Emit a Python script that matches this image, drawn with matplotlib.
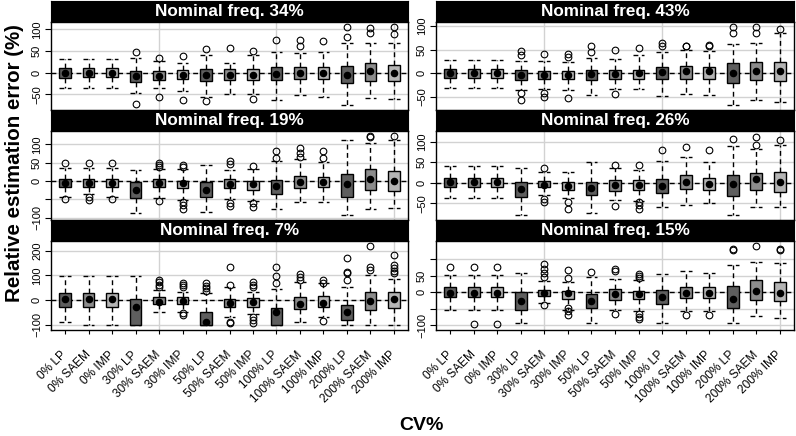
import matplotlib
matplotlib.use('Agg')
import matplotlib.pyplot as plt

plt.rcParams['font.family'] = ['Liberation Sans', 'DejaVu Sans']

# ---------------- data ----------------
categories = ['0% LP', '0% SAEM', '0% IMP', '30% LP', '30% SAEM', '30% IMP',
              '50% LP', '50% SAEM', '50% IMP', '100% LP', '100% SAEM', '100% IMP',
              '200% LP', '200% SAEM', '200% IMP']
methods = ['LP', 'SAEM', 'IMP'] * 5
titles = ['Nominal freq. 34%', 'Nominal freq. 43%', 'Nominal freq. 19%',
          'Nominal freq. 26%', 'Nominal freq. 7%', 'Nominal freq. 15%']

# Nominal freq. 34%
med_34 = [0, 0, 0, -8, -7, -5, -6, -5, -5, -2, 0, 0, -5, 4, 0]
q1_34 = [-11, -10, -10, -21, -17, -15, -20, -17, -17, -17, -15, -15, -23, -18, -19]
q3_34 = [10, 10, 10, 5, 5, 6, 8, 8, 8, 14, 14, 14, 15, 23, 19]
lo_34 = [-36, -36, -36, -46, -34, -41, -55, -49, -49, -62, -52, -55, -75, -59, -61]
hi_34 = [31, 31, 31, 33, 28, 23, 41, 23, 41, 48, 45, 48, 68, 69, 69]
out_34 = [[], [], [], [48, -71], [33, -55], [39, -63], [54, -65], [58], [51, -60],
          [75], [75, 62], [74], [106, 83], [103, 91], [105, 89]]

# Nominal freq. 43%
med_43 = [0, 0, 0, -4, -4, -4, -1, -1, 0, 3, 4, 4, 0, 5, 4]
q1_43 = [-9, -9, -9, -14, -13, -13, -14, -13, -12, -12, -12, -12, -20, -14, -16]
q3_43 = [9, 9, 9, 6, 5, 5, 8, 8, 8, 14, 16, 14, 21, 23, 23]
lo_43 = [-32, -32, -32, -35, -34, -35, -47, -34, -34, -48, -45, -46, -67, -57, -60]
hi_43 = [28, 28, 28, 26, 26, 23, 32, 30, 39, 46, 49, 47, 62, 65, 85]
out_43 = [[], [], [], [48, 39, -42, -57], [41, -42, -51], [40, 35, -53], [57, 46],
          [49, -45], [54], [64, 59], [59, 57], [60, 57], [99, 86], [98, 85], [95]]

# Nominal freq. 19%
med_19 = [-4, -4, -4, -23, -6, -6, -25, -9, -8, -13, -2, -2, -9, 5, 0]
q1_19 = [-15, -15, -15, -45, -17, -20, -43, -20, -23, -34, -20, -17, -43, -25, -26]
q3_19 = [7, 7, 7, -2, 7, 1, -2, 5, 1, 3, 14, 12, 19, 32, 28]
lo_19 = [-43, -34, -43, -86, -47, -52, -84, -50, -54, -75, -56, -56, -93, -76, -72]
hi_19 = [35, 35, 35, 30, 32, 32, 45, 30, 32, 55, 60, 53, 112, 103, 112]
out_19 = [[48, -49], [50, -43, -52], [48, -49], [], [48, 44, 39, -54],
          [44, 37, -56, -65, -75], [], [55, 46, -59, -67], [41, -61, -70], [82, 62],
          [89, 77, 65], [83, 62], [], [123, 120], [123]]

# Nominal freq. 26%
med_26 = [2, 2, 2, -16, -6, -7, -14, -6, -6, -7, 2, -2, -3, 8, 2]
q1_26 = [-11, -11, -11, -34, -11, -18, -30, -20, -18, -24, -15, -18, -33, -18, -22]
q3_26 = [11, 11, 11, 2, 5, 2, 2, 7, 7, 8, 19, 12, 20, 24, 25]
lo_26 = [-38, -38, -38, -79, -30, -38, -75, -42, -44, -59, -54, -49, -79, -59, -59]
hi_26 = [41, 41, 41, 35, 27, 27, 51, 35, 31, 53, 63, 51, 89, 82, 92]
out_26 = [[], [], [], [], [37, -40, -46], [-46, -65], [], [43, -57],
          [43, -46, -54, -64], [80], [86], [80], [106], [112, 92], [104]]

# Nominal freq. 7%
med_7 = [4, 4, 4, -30, -7, -4, -88, -14, -7, -50, -16, -14, -47, -4, 3]
q1_7 = [-27, -27, -27, -100, -16, -16, -100, -30, -27, -100, -36, -30, -81, -41, -34]
q3_7 = [27, 27, 27, 3, 11, 11, -47, 3, 7, -34, 11, 14, -20, 34, 34]
lo_7 = [-88, -100, -100, -100, -51, -50, -100, -68, -57, -100, -88, -68, -100, -100, -100]
hi_7 = [99, 99, 99, 99, 41, 34, 27, 51, 31, 43, 74, 68, 54, 101, 85]
out_7 = [[], [], [], [], [81, 72, 61, 51], [68, 61, 51, -55, -60], [68, 58, 47, 38],
         [135, 61, -88, -95], [74, 61, 54, -68, -81, -92], [132, 97, 70],
         [105, 92, 81], [81, 70, -85], [170, 115, 108, 81], [219, 135, 122],
         [182, 142, 128, 119, 108]]

# Nominal freq. 15%
med_15 = [-1, -1, -1, -28, -3, -3, -28, -6, -6, -16, -3, -3, -20, 4, -1]
q1_15 = [-16, -16, -16, -53, -11, -21, -48, -23, -21, -36, -18, -18, -48, -25, -28]
q3_15 = [15, 15, 15, 0, 7, 5, -6, 9, 5, 7, 15, 15, 19, 37, 30]
lo_15 = [-53, -53, -53, -93, -33, -53, -92, -53, -57, -94, -57, -57, -94, -72, -79]
hi_15 = [52, 52, 52, 57, 35, 32, 47, 39, 37, 56, 63, 58, 83, 91, 88]
out_15 = [[77], [77, -95], [77, -95], [], [86, 71, 58, 47, -38], [68, 42, -48, -58, -68],
          [60], [70, 63, -67], [56, 50, 42, -66, -74, -81], [], [-69], [-69],
          [130, 127], [139], [130, 127]]

panel_data = [
    (med_34, q1_34, q3_34, lo_34, hi_34, out_34),
    (med_43, q1_43, q3_43, lo_43, hi_43, out_43),
    (med_19, q1_19, q3_19, lo_19, hi_19, out_19),
    (med_26, q1_26, q3_26, lo_26, hi_26, out_26),
    (med_7, q1_7, q3_7, lo_7, hi_7, out_7),
    (med_15, q1_15, q3_15, lo_15, hi_15, out_15),
]

ylims = [(-87, 117), (-79, 109), (-106, 135), (-91, 125), (-120, 239), (-113, 155)]
yticks = [[-50, 0, 50, 100], [-50, 0, 50, 100], [-100, -50, 0, 50, 100],
          [-50, 0, 50, 100], [-100, 0, 100, 200], [-100, -50, 0, 50, 100]]
ylabels_shown = [[-50, 0, 50, 100], [-50, 0, 50, 100], [-100, 0, 50, 100],
                 [-50, 0, 50, 100], [-100, 0, 100, 200], [-100, 0, 50]]

method_colors = {'LP': '#5e5e5e', 'SAEM': '#8c8c8c', 'IMP': '#b5b5b5'}

# ---------------- layout ----------------
W, H = 796, 436
fig = plt.figure(figsize=(W / 100, H / 100), dpi=100)

col_x = [(51, 408), (436, 794)]
strip_tops = [1, 110.5, 220]
strip_h = 21
panel_h = 88.5


def rect(x0, x1, ytop, ybot):
    return [x0 / W, 1 - ybot / H, (x1 - x0) / W, (ybot - ytop) / H]


dash = (0, (3.5, 2.5))
positions = list(range(1, len(categories) + 1))

for i, (med, q1, q3, lo, hi, outs) in enumerate(panel_data):
    row, col = divmod(i, 2)
    x0, x1 = col_x[col]
    st = strip_tops[row]
    sax = fig.add_axes(rect(x0, x1, st, st + strip_h))
    sax.set_facecolor('black')
    sax.set_xticks([]); sax.set_yticks([])
    for s in sax.spines.values():
        s.set_color('black')
    sax.text(0.5, 0.5, titles[i], color='white', fontsize=12.3, fontweight='bold',
             ha='center', va='center', transform=sax.transAxes)

    ax = fig.add_axes(rect(x0, x1, st + strip_h, st + strip_h + panel_h))
    ax.set_xlim(0.4, len(categories) + 0.6)
    ax.set_ylim(*ylims[i])
    ax.set_axisbelow(True)
    for t in yticks[i]:
        ax.axhline(t, color='#d2d2d2', lw=1, zorder=0)
    for v in (5, 10, 15):
        ax.axvline(v, color='#d2d2d2', lw=1, zorder=0)
    ax.axhline(0, color='black', lw=1, linestyle=dash, zorder=1)

    stats = []
    for k in range(len(categories)):
        stats.append(dict(med=med[k], q1=q1[k], q3=q3[k], whislo=lo[k],
                          whishi=hi[k], fliers=outs[k]))
    bp = ax.bxp(stats, positions=positions, widths=0.5, capwidths=0.5,
                patch_artist=True, showfliers=True, manage_ticks=False,
                boxprops=dict(edgecolor='black', linewidth=1),
                whiskerprops=dict(color='black', linestyle=dash, linewidth=1),
                capprops=dict(color='black', linestyle=dash, linewidth=1),
                medianprops=dict(linestyle='none'),
                flierprops=dict(marker='o', markerfacecolor='none',
                                markeredgecolor='black', markersize=4.8,
                                markeredgewidth=0.8))
    for patch, m in zip(bp['boxes'], methods):
        patch.set_facecolor(method_colors[m])
        patch.set_zorder(3)
    ax.scatter(positions, med, s=20, color='black', zorder=5)

    ax.set_yticks(yticks[i])
    ax.set_yticklabels([(str(t).replace('-', '\u2212') if t in ylabels_shown[i] else '')
                        for t in yticks[i]])
    ax.tick_params(axis='y', labelrotation=90, length=4.5, width=0.8,
                   labelsize=8, pad=2)
    for lab in ax.get_yticklabels():
        lab.set_va('center')
    if row == 2:
        ax.set_xticks(positions)
        ax.set_xticklabels(categories, rotation=45, ha='right', va='center',
                           rotation_mode='anchor', fontsize=8.6)
        ax.tick_params(axis='x', length=3, width=0.8, pad=14)
    else:
        ax.set_xticks([])
    for s in ax.spines.values():
        s.set_color('black')
        s.set_linewidth(1)

fig.text(15 / W, 1 - 163 / H, 'Relative estimation error (%)', rotation=90,
         ha='center', va='center', fontsize=14.8, fontweight='bold')
fig.text(421 / W, 1 - 425 / H, 'CV%', ha='center', va='center',
         fontsize=14, fontweight='bold')

fig.savefig('out.png', dpi=100)
